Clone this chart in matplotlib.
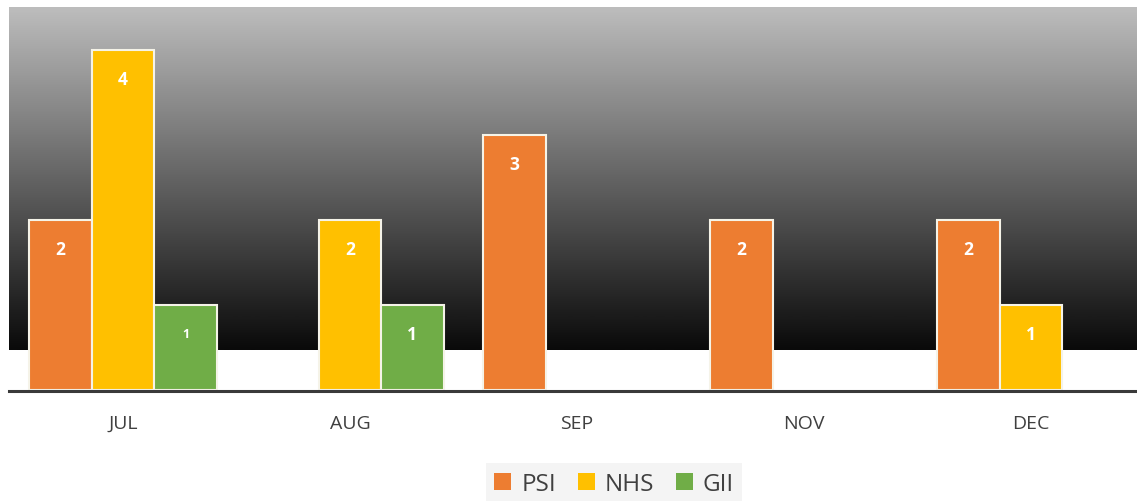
import numpy as np
import matplotlib.pyplot as plt

months = ["JUL", "AUG", "SEP", "NOV", "DEC"]
psi = [2, 0, 3, 2, 2]
nhs = [4, 2, 0, 0, 1]
gii = [1, 1, 0, 0, 0]

series = [("PSI", psi, "#ED7D31"), ("NHS", nhs, "#FFC000"), ("GII", gii, "#70AD47")]

plt.rcParams['font.family'] = ['Open Sans', 'DejaVu Sans']

fig = plt.figure(figsize=(11.37, 5.02), dpi=100)
ax = fig.add_axes([9 / 1137, 111 / 502, 1 - 9 / 1137, 383 / 502])

ymax = 4.51
xlim = (-0.502, 4.467)
ax.set_xlim(*xlim)
ax.set_ylim(0, ymax)

# gradient background
grad = np.linspace(0.74, 0.04, 256).reshape(-1, 1)
ax.imshow(grad, cmap="gray", vmin=0, vmax=1, aspect="auto",
          extent=(xlim[0], xlim[1], 0.472, ymax), zorder=0, interpolation="bicubic")

x = np.arange(len(months))
w = 0.275
for i, (name, vals, col) in enumerate(series):
    pos = x + (i - 1) * w
    for p, v in zip(pos, vals):
        if v == 0:
            continue
        ax.bar(p, v, width=w, color=col, edgecolor="#f5f3e8", linewidth=1.5, zorder=2)
        fs = 9 if (name == "GII" and p < 0.5) else 12.5
        ax.text(p, v - 0.34, str(v), ha="center", va="center", color="white",
                fontsize=fs, fontweight="bold", zorder=3)
    ax.bar([0], [0], width=0, color=col, label=name)

ax.axhline(-0.01, color="#3a3a3a", linewidth=2.2, zorder=4, clip_on=False)

for s in ax.spines.values():
    s.set_visible(False)
ax.set_yticks([])
ax.set_xticks(x)
ax.set_xticklabels(months, fontsize=14, color="#404040")
ax.tick_params(axis="x", length=0, pad=17)

leg = fig.legend(loc="center", bbox_to_anchor=(614 / 1137, 17 / 502), ncol=3,
                 frameon=True, fontsize=17.5, handlelength=0.7, handleheight=0.7,
                 handletextpad=0.4, columnspacing=0.9, borderpad=0.35,
                 borderaxespad=0, fancybox=False)
leg.get_frame().set_facecolor("#f2f2f2")
leg.get_frame().set_edgecolor("none")
for t in leg.get_texts():
    t.set_color("#404040")

fig.savefig("out.png", dpi=100)
